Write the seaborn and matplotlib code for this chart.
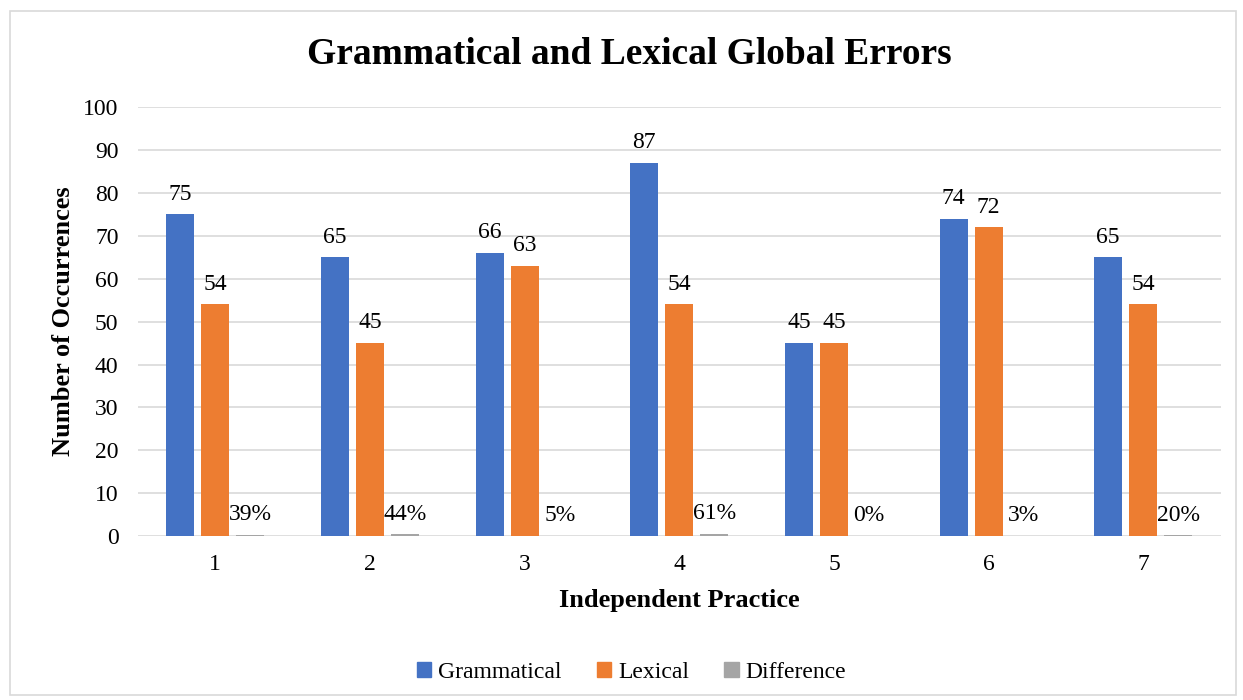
import matplotlib
matplotlib.use("Agg")
import matplotlib.pyplot as plt
import seaborn as sns
import pandas as pd
from matplotlib.patches import Rectangle

categories = ["1", "2", "3", "4", "5", "6", "7"]
grammatical = [75, 65, 66, 87, 45, 74, 65]
lexical = [54, 45, 63, 54, 45, 72, 54]
difference = [0.39, 0.44, 0.05, 0.61, 0.00, 0.03, 0.20]
series_names = ["Grammatical", "Lexical", "Difference"]
colors = ["#4472C4", "#ED7D31", "#A5A5A5"]

rows = []
for i, c in enumerate(categories):
    rows.append((c, "Grammatical", grammatical[i]))
    rows.append((c, "Lexical", lexical[i]))
    rows.append((c, "Difference", difference[i]))
df = pd.DataFrame(rows, columns=["Practice", "Series", "Value"])

sns.set_theme(style="white")
plt.rcParams["font.family"] = ["Liberation Serif", "DejaVu Serif"]
plt.rcParams["text.color"] = "black"
plt.rcParams["axes.labelcolor"] = "black"

fig = plt.figure(figsize=(12.43, 7.0), dpi=100)
ax = fig.add_axes([0.111, 0.234, 0.871, 0.613])

sns.barplot(data=df, x="Practice", y="Value", hue="Series", hue_order=series_names,
            palette=colors, width=0.68, gap=0.2, ax=ax, errorbar=None,
            saturation=1, legend=False, zorder=3, linewidth=0, edgecolor="none")

ax.set_ylim(0, 100)
ax.set_yticks(range(0, 101, 10))
ax.grid(axis="y", color="#D9D9D9", linewidth=1.2, zorder=0)
ax.set_axisbelow(True)
for s in ["top", "right", "left", "bottom"]:
    ax.spines[s].set_visible(False)
ax.tick_params(axis="both", length=0, labelsize=17, colors="black")
ax.tick_params(axis="y", pad=14)
ax.tick_params(axis="x", pad=13)
ax.set_xlim(-0.5, 6.5)

# labels
for ci, cont in enumerate(ax.containers):
    if ci < 2:
        ax.bar_label(cont, labels=[f"{v:g}" for v in cont.datavalues], padding=7, fontsize=17)
    else:
        ax.bar_label(cont, labels=[f"{round(v*100):d}%" for v in cont.datavalues], padding=7, fontsize=17)

ax.set_xlabel("Independent Practice", fontsize=19, fontweight="bold", labelpad=10)
ax.set_ylabel("Number of Occurrences", fontsize=19, fontweight="bold", labelpad=6)

fig.text(0.5065, 0.922, "Grammatical and Lexical Global Errors", ha="center", va="center",
         fontsize=27, fontweight="bold")

handles = [Rectangle((0, 0), 1, 1, color=c) for c in colors]
fig.legend(handles, series_names, loc="center", bbox_to_anchor=(0.508, 0.04), ncol=3,
           frameon=False, fontsize=17, handlelength=0.6, handleheight=0.6,
           handletextpad=0.3, columnspacing=1.5)

fig.patches.append(Rectangle((10/1243, 5/700), 1226/1243, 684/700, transform=fig.transFigure,
                             fill=False, edgecolor="#D9D9D9", linewidth=1.2))

fig.savefig("out.png", dpi=100, facecolor="white")
